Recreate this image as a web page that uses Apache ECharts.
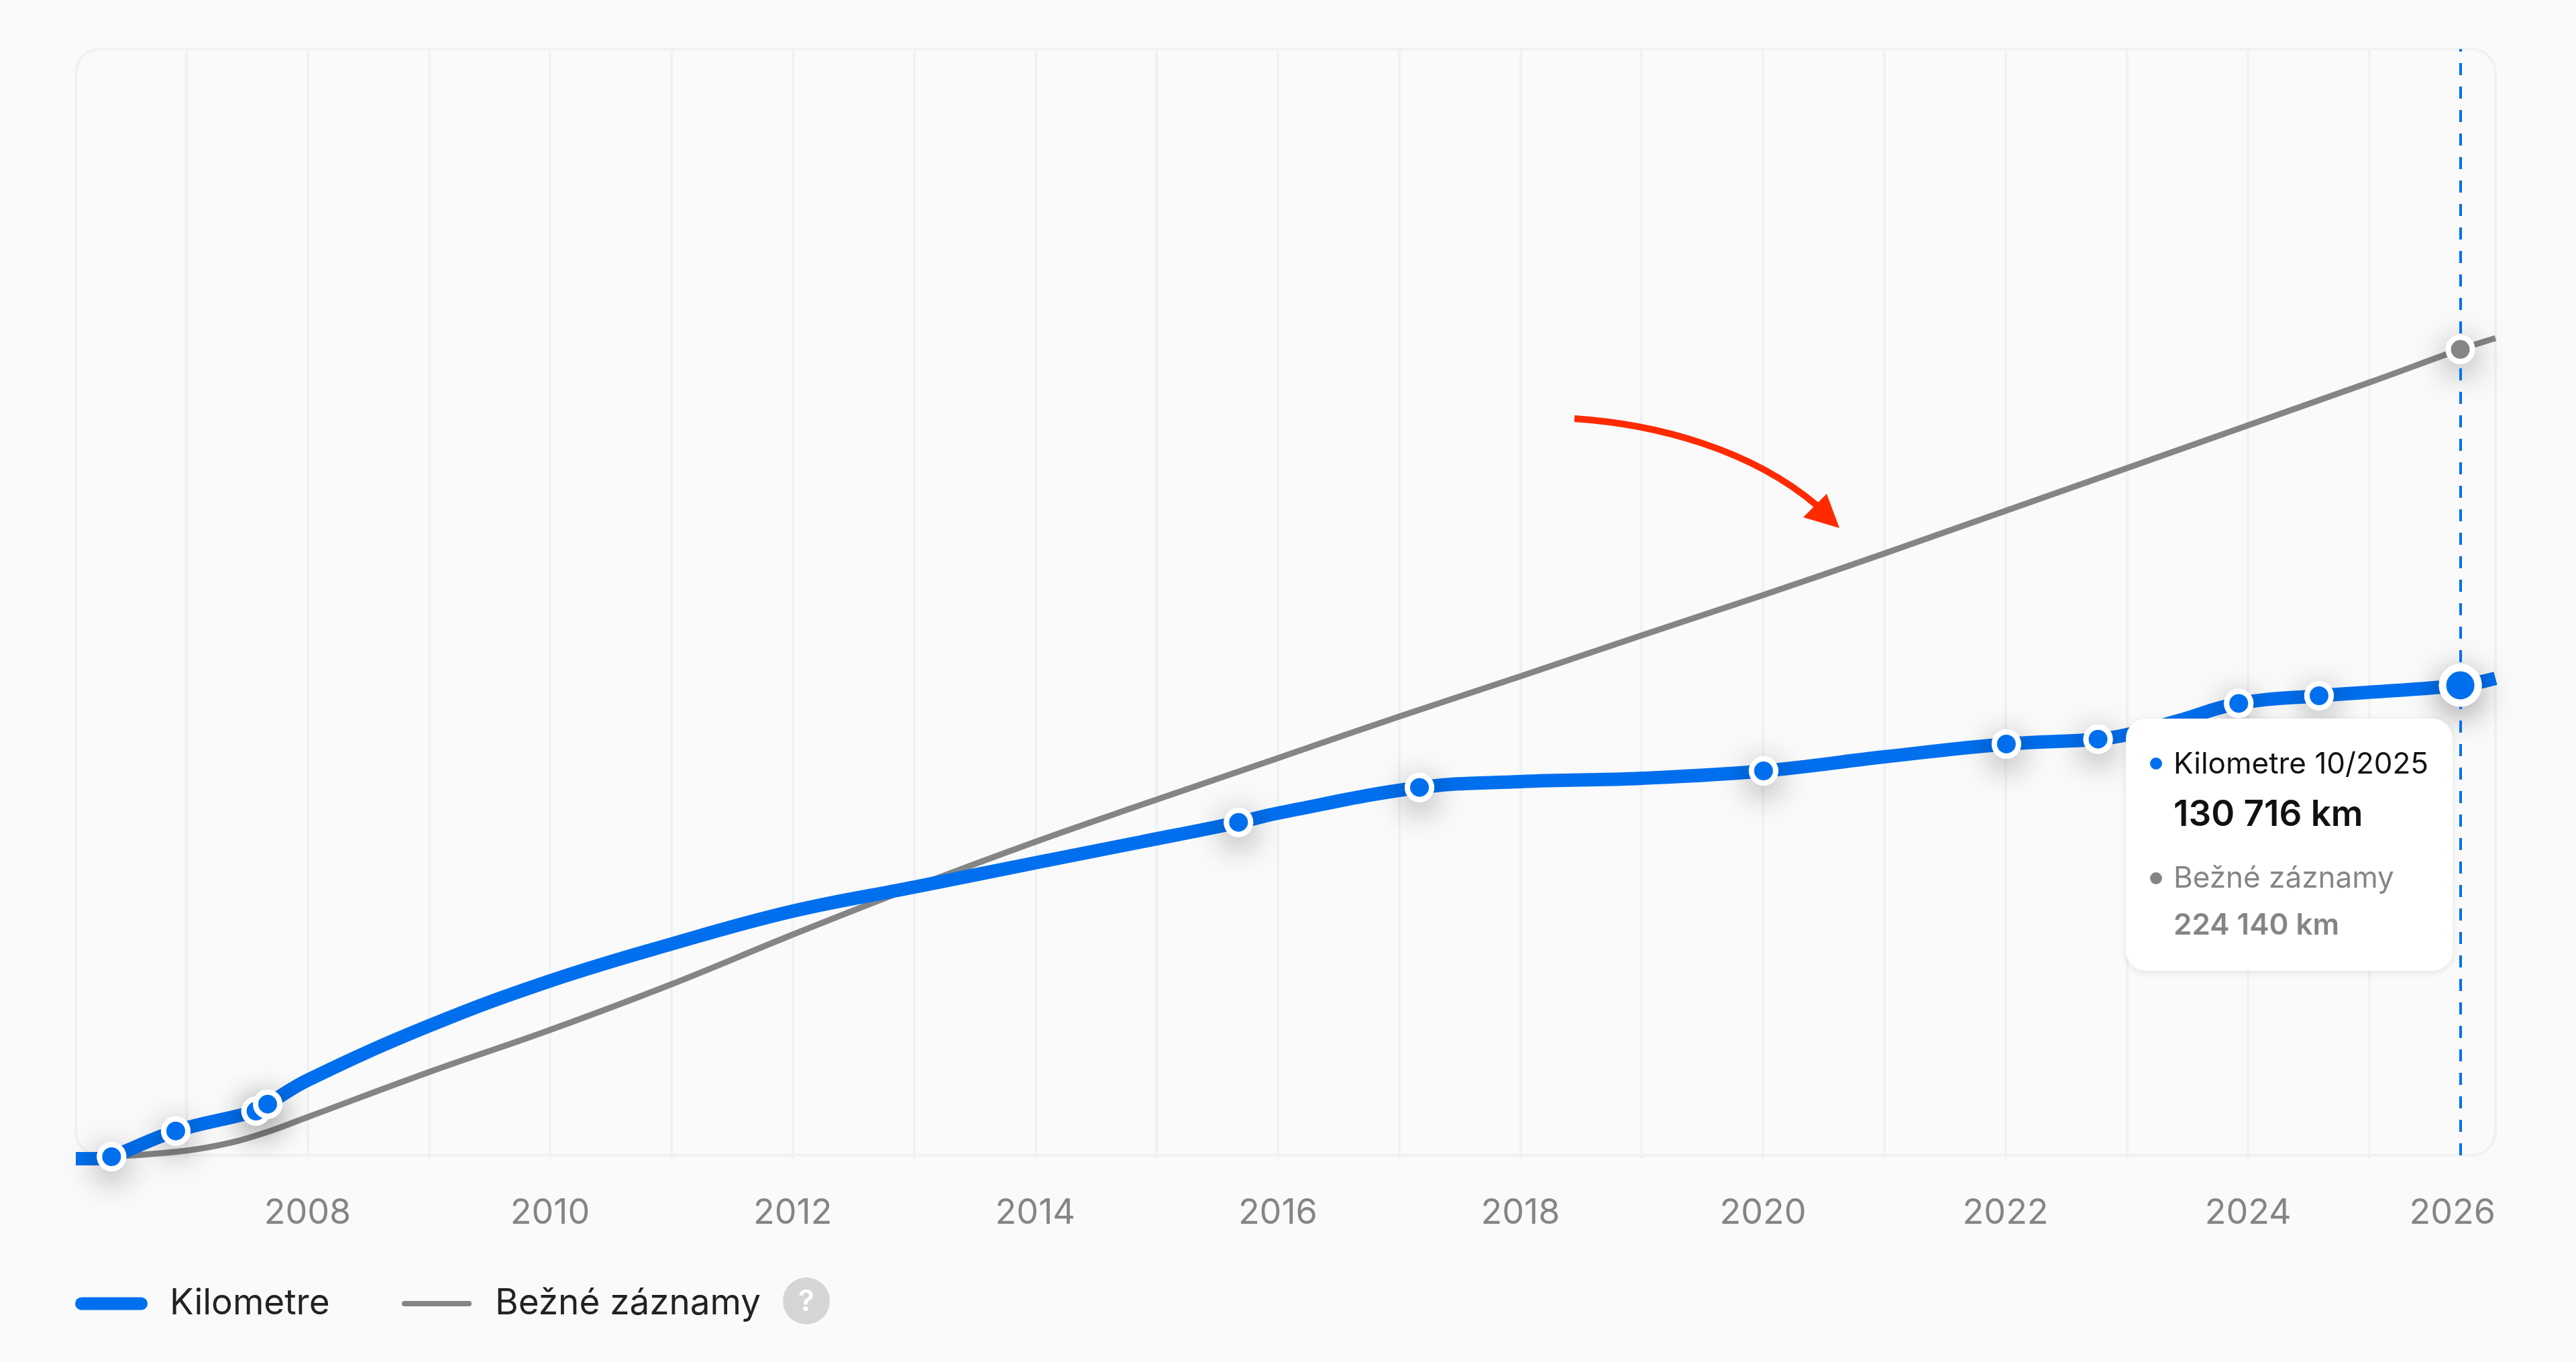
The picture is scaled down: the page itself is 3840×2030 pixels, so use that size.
<!DOCTYPE html>
<html>
<head>
<meta charset="utf-8">
<title>Kilometre</title>
<script src="https://cdn.jsdelivr.net/npm/echarts@6/dist/echarts.min.js"></script>
<style>
    html, body { margin: 0; padding: 0; background: #fafafa; }
    #main { width: 3840px; height: 2030px; }
</style>
</head>
<body>
<div id="main"></div>
<script>
// os x = desatinny rok, os y = km
var xMin = 2006.089;
var xMax = 2026.04;
var yMax = 307700;

var gridYears = [2007, 2008, 2009, 2010, 2011, 2012, 2013, 2014, 2015, 2016, 2017, 2018, 2019, 2020, 2021, 2022, 2023, 2024, 2025];
var labelYears = [2008, 2010, 2012, 2014, 2016, 2018, 2020, 2022, 2024, xMax];

// krivka kilometrov
var kmYears = [2006.089, 2006.29, 2006.384, 2006.913, 2007.575, 2007.671, 2008, 2009, 2010, 2011, 2012, 2013, 2014, 2014.867, 2015.676, 2016, 2017.168, 2018, 2019, 2020.005, 2021, 2022.007, 2022.763, 2023, 2023.41, 2023.923, 2024.585, 2025.75, 2026.04];
var kmValues = [-930, -930, -370, 6770, 12320, 14240, 20900, 36000, 48520, 58780, 67920, 74600, 81360, 87140, 92610, 95170, 102310, 103940, 104870, 106920, 110840, 114390, 115750, 117000, 120730, 125680, 127820, 130716, 132670];

// body zaznamov na krivke
var markYears = [2006.384, 2006.913, 2007.575, 2007.671, 2015.676, 2017.168, 2020.005, 2022.007, 2022.763, 2023.923, 2024.585, 2025.75];
var markValues = [-370, 6770, 12320, 14240, 92610, 102310, 106920, 114390, 115750, 125680, 127820, 130716];

// bezne zaznamy
var usualYears = [2006.384, 2007, 2007.372, 2007.671, 2008, 2009, 2010, 2011, 2012, 2013, 2014, 2014.867, 2016, 2017, 2018, 2019, 2020, 2021, 2025, 2025.75, 2026.04];
var usualValues = [-370, 1310, 3550, 6530, 10640, 23140, 34890, 47580, 61390, 74640, 87200, 97400, 110470, 122040, 133230, 144620, 155810, 167380, 214960, 224140, 227280];
var usualNow = 19; // index bodu 10/2025

function pairs(xs, ys) {
    return xs.map(function (x, i) { return [x, ys[i]]; });
}

var blue = '#006fee';
var grey = '#858585';
var font = 'Inter';
var gridColor = '#edf2f8';

var myChart = echarts.init(document.getElementById('main'));

function isLast(i) {
    return i === markYears.length - 1;
}

// biely podklad s tienom, aby tien nestmavil modru vypln
var haloData = pairs(markYears, markValues).map(function (p, i) {
    return { value: p, symbolSize: isLast(i) ? 64 : 44 };
});
var markData = pairs(markYears, markValues).map(function (p, i) {
    return {
        value: p,
        symbolSize: isLast(i) ? 53 : 36,
        itemStyle: { borderWidth: isLast(i) ? 11 : 8 }
    };
});
var haloStyle = { color: '#ffffff', opacity: 1, shadowBlur: 48, shadowColor: 'rgba(0,0,0,0.42)', shadowOffsetY: 12 };

var option = {
    animation: false,
    backgroundColor: '#fafafa',
    textStyle: { fontFamily: font },
    grid: { left: 113, top: 73, width: 3607, height: 1649 },
    xAxis: {
        type: 'value',
        min: xMin,
        max: xMax,
        axisLine: { show: false },
        axisTick: {
            show: true,
            length: 5,
            customValues: gridYears,
            lineStyle: { color: gridColor, width: 4 }
        },
        splitLine: { show: true, lineStyle: { color: gridColor, width: 4 } },
        axisLabel: {
            customValues: labelYears,
            alignMaxLabel: 'right',
            margin: 60,
            fontFamily: font,
            fontSize: 52,
            color: grey,
            formatter: function (v) { return String(Math.floor(v)); }
        }
    },
    yAxis: { type: 'value', min: 0, max: yMax, show: false },
    legend: [{
        data: [{ name: 'Kilometre', icon: 'path://M9.5 0H98.5A9.5 9.5 0 0 1 98.5 19H9.5A9.5 9.5 0 0 1 9.5 0Z' }],
        left: 112,
        top: 1911,
        padding: 0,
        itemWidth: 108,
        itemHeight: 19,
        itemGap: 0,
        selectedMode: false,
        textStyle: { fontFamily: font, fontSize: 53, color: '#222222', padding: [0, 0, 0, 28], lineHeight: 64 }
    }, {
        data: [{ name: 'Bežné záznamy', icon: 'path://M4 0H100A4 4 0 0 1 100 8H4A4 4 0 0 1 4 0Z' }],
        left: 599,
        top: 1911,
        padding: 0,
        itemWidth: 104,
        itemHeight: 8,
        itemGap: 0,
        selectedMode: false,
        textStyle: { fontFamily: font, fontSize: 53, color: '#222222', padding: [0, 0, 0, 30], lineHeight: 64 }
    }],
    series: [{
        name: 'Bežné záznamy',
        type: 'line',
        data: pairs(usualYears, usualValues),
        smooth: 0.4,
        showSymbol: false,
        clip: false,
        z: 2,
        itemStyle: { color: grey },
        lineStyle: { color: grey, width: 9 }
    }, {
        name: 'Kilometre',
        type: 'line',
        data: pairs(kmYears, kmValues),
        smooth: 0.4,
        showSymbol: false,
        clip: false,
        z: 3,
        itemStyle: { color: blue },
        lineStyle: { color: blue, width: 20 }
    }, {
        name: 'Kilometre tien',
        type: 'scatter',
        data: haloData,
        clip: false,
        z: 4,
        itemStyle: haloStyle,
        markLine: {
            silent: true,
            symbol: 'none',
            animation: false,
            label: { show: false },
            lineStyle: { color: blue, type: [18, 17], width: 4, opacity: 1 },
            data: [{ xAxis: markYears[markYears.length - 1] }]
        }
    }, {
        name: 'Bežné záznamy tien',
        type: 'scatter',
        data: [[usualYears[usualNow], usualValues[usualNow]]],
        symbolSize: 44,
        clip: false,
        z: 4,
        itemStyle: haloStyle
    }, {
        name: 'Kilometre body',
        type: 'scatter',
        data: markData,
        clip: false,
        z: 5,
        itemStyle: { color: blue, borderColor: '#ffffff', opacity: 1 }
    }, {
        name: 'Bežné záznamy bod',
        type: 'scatter',
        data: [[usualYears[usualNow], usualValues[usualNow]]],
        symbolSize: 36,
        clip: false,
        z: 5,
        itemStyle: { color: grey, borderColor: '#ffffff', borderWidth: 8, opacity: 1 }
    }],
    graphic: [
        // ramik grafu
        { type: 'rect', silent: true, z: -1, shape: { x: 113, y: 73, width: 3607, height: 1649, r: 36 }, style: { fill: 'none', stroke: '#f1f1f1', lineWidth: 4 } },
        // cervena sipka
        { type: 'bezierCurve', silent: true, z: 20, shape: { x1: 2347, y1: 624, cpx1: 2470, cpy1: 632, cpx2: 2610, cpy2: 670, x2: 2708, y2: 753 }, style: { fill: 'none', stroke: '#ff2a00', lineWidth: 10 } },
        { type: 'polygon', silent: true, z: 20, shape: { points: [[2742, 787], [2723, 736], [2688, 771]] }, style: { fill: '#ff2a00' } },
        // tooltip
        { type: 'rect', silent: true, z: 30, shape: { x: 3169, y: 1071, width: 487, height: 376, r: 30 }, style: { fill: '#ffffff', shadowBlur: 12, shadowColor: 'rgba(0,0,0,0.10)', shadowOffsetY: 2 } },
        { type: 'circle', silent: true, z: 31, shape: { cx: 3214, cy: 1138, r: 9 }, style: { fill: blue } },
        { type: 'text', silent: true, z: 31, x: 3240, y: 1140, style: { text: 'Kilometre 10/2025', fontFamily: font, fontSize: 44, fill: '#111111', verticalAlign: 'middle' } },
        { type: 'text', silent: true, z: 31, x: 3240, y: 1215, style: { text: '130 716 km', fontFamily: font, fontSize: 53, fontWeight: 600, fill: '#111111', verticalAlign: 'middle' } },
        { type: 'circle', silent: true, z: 31, shape: { cx: 3214, cy: 1309, r: 9 }, style: { fill: grey } },
        { type: 'text', silent: true, z: 31, x: 3240, y: 1310, style: { text: 'Bežné záznamy', fontFamily: font, fontSize: 44, fill: grey, verticalAlign: 'middle' } },
        { type: 'text', silent: true, z: 31, x: 3240, y: 1380, style: { text: '224 140 km', fontFamily: font, fontSize: 44, fontWeight: 600, fill: grey, verticalAlign: 'middle' } },
        // otaznik pri legende
        { type: 'circle', silent: true, z: 10, shape: { cx: 1202, cy: 1939, r: 35 }, style: { fill: '#d5d5d5' } },
        { type: 'text', silent: true, z: 11, x: 1202, y: 1941, style: { text: '?', fontFamily: font, fontSize: 44, fontWeight: 600, fill: '#ffffff', align: 'center', verticalAlign: 'middle' } }
    ]
};

myChart.setOption(option);
</script>
</body>
</html>
